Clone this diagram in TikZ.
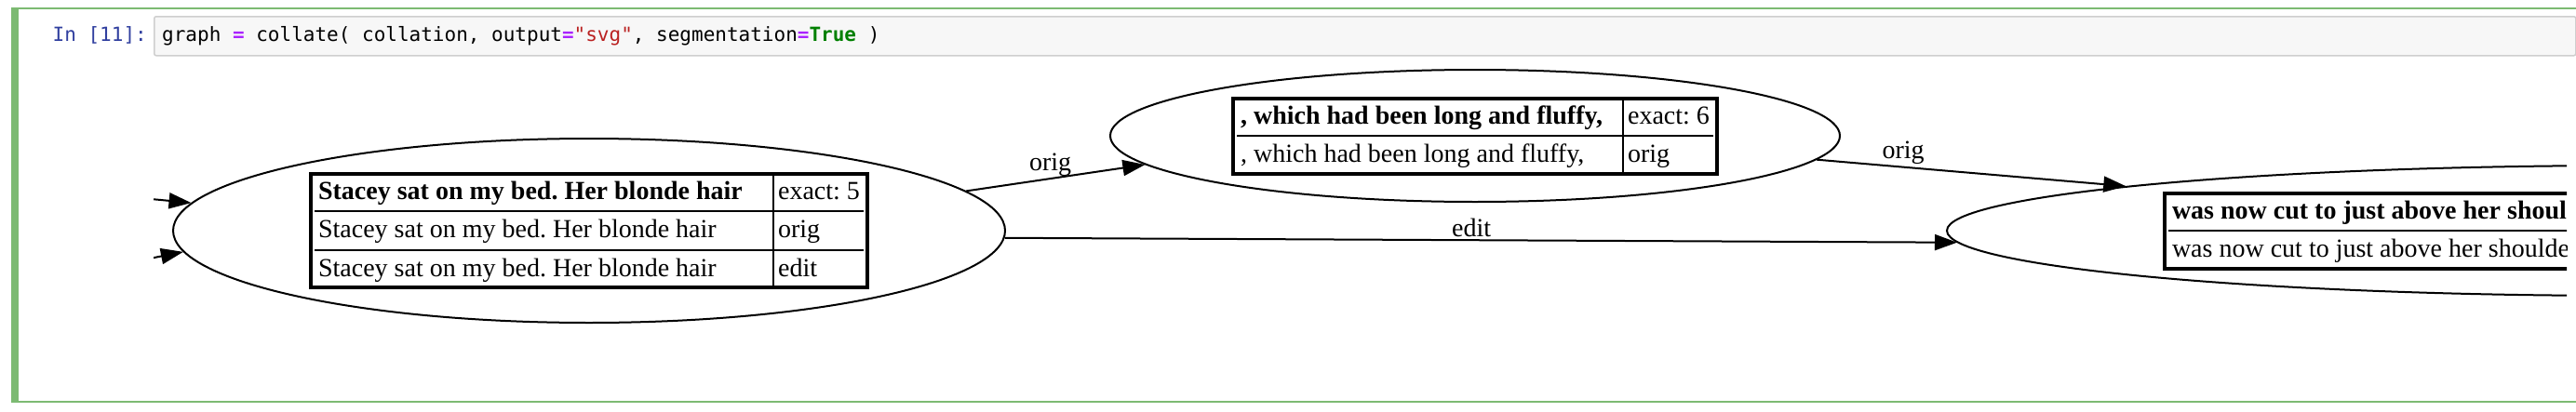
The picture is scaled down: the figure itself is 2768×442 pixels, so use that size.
\documentclass[tikz,border=0pt]{standalone}
\usepackage{fontspec}
\setmainfont{Liberation Serif}
\setmonofont{DejaVu Sans Mono}
\usepackage{array}
\usepackage{xcolor}
\usetikzlibrary{shapes.geometric,arrows.meta,positioning}

\definecolor{cellgreen}{RGB}{124,186,114}
\definecolor{promptblue}{RGB}{48,63,159}
\definecolor{opviolet}{RGB}{170,34,255}
\definecolor{strred}{RGB}{186,33,33}
\definecolor{kwgreen}{RGB}{0,128,0}
\definecolor{boxgray}{RGB}{247,247,247}
\definecolor{boxline}{RGB}{207,207,207}

\newcommand{\pyop}[1]{\textcolor{opviolet}{\bfseries #1}}
\newcommand{\pystr}[1]{\textcolor{strred}{#1}}
\newcommand{\pykw}[1]{\textcolor{kwgreen}{\bfseries #1}}

\setlength{\tabcolsep}{4pt}
\setlength{\arrayrulewidth}{2pt}
\frenchspacing

\begin{document}
\begin{tikzpicture}[
    x=1pt, y=-1pt,
    inbox/.style={rectangle, draw=boxline, fill=boxgray, rounded corners=2pt, line width=1.5pt, inner sep=0pt},
    codetext/.style={inner sep=0pt, font=\fontsize{21}{25}\selectfont\ttfamily},
    prompttext/.style={inner sep=0pt, text=promptblue, font=\fontsize{21}{25}\selectfont\ttfamily},
    seg/.style={ellipse, draw, line width=2pt, inner sep=0pt},
    segtable/.style={rectangle, draw, line width=4pt, inner xsep=4pt, inner ysep=0pt, font=\fontsize{28}{39.5}\selectfont},
    edge/.style={-{Triangle[length=24pt,width=17pt]}, line width=2pt},
    lbl/.style={inner sep=2pt, font=\fontsize{28}{34}\selectfont}
]
\useasboundingbox (0,0) rectangle (2768,442);
\fill[white] (0,0) rectangle (2768,442);

% Notebook cell
\fill[cellgreen] (12,9) rectangle (20,433);
\draw[cellgreen, line width=2pt] (12,9) -- (2768,9);
\draw[cellgreen, line width=2pt] (12,432) -- (2768,432);

\node[inbox, anchor=north west, minimum width=2602pt, minimum height=42pt] (incell) at (165,17) {};
\node[prompttext, anchor=base east] (prompt) at (158,44) {In [11]:};
\node[codetext, anchor=base west] (code) at (174,44) {graph \pyop{=} collate( collation, output\pyop{=}\pystr{"svg"}, segmentation\pyop{=}\pykw{True} )};

\begin{scope}
\clip (165,62) rectangle (2758,430);

% Segments
\node[seg, minimum width=894pt, minimum height=198pt] (n1) at (633,248) {};
\node[segtable] (t1) at (n1) {\begin{tabular}{p{484pt}|l}
\textbf{Stacey sat on my bed. Her blonde hair} & exact: 5\\ \hline
Stacey sat on my bed. Her blonde hair & orig\\ \hline
Stacey sat on my bed. Her blonde hair & edit
\end{tabular}};

\node[seg, minimum width=784pt, minimum height=142pt] (n2) at (1585,146) {};
\node[segtable] (t2) at (n2) {\begin{tabular}{p{406pt}|l}
\textbf{, which had been long and fluffy,} & exact: 6\\ \hline
, which had been long and fluffy, & orig
\end{tabular}};

\node[seg, minimum width=1478pt, minimum height=140pt] (n3) at (2831,248) {};
\node[segtable] (t3) at (n3) {\begin{tabular}{p{994pt}}
\textbf{was now cut to just above her shoul}\\ \hline
was now cut to just above her shoulde
\end{tabular}};

% Arrows
\coordinate (src1) at (120,210);
\coordinate (src2) at (120,286);
\draw[edge] (src1) -- (n1.176.2);
\draw[edge] (src2) -- (n1.183.8);
\draw[edge] (n1.6.1) -- node[lbl, above, pos=0.47] {orig} (n2.185.7);
\draw[edge] (n2.-4.7) -- node[lbl, above, pos=0.28] {orig} (n3.175.3);
\draw[edge] (n1.-1.55) -- node[lbl, above, pos=0.49] {edit} (n3.181.2);
\end{scope}

\end{tikzpicture}
\end{document}
